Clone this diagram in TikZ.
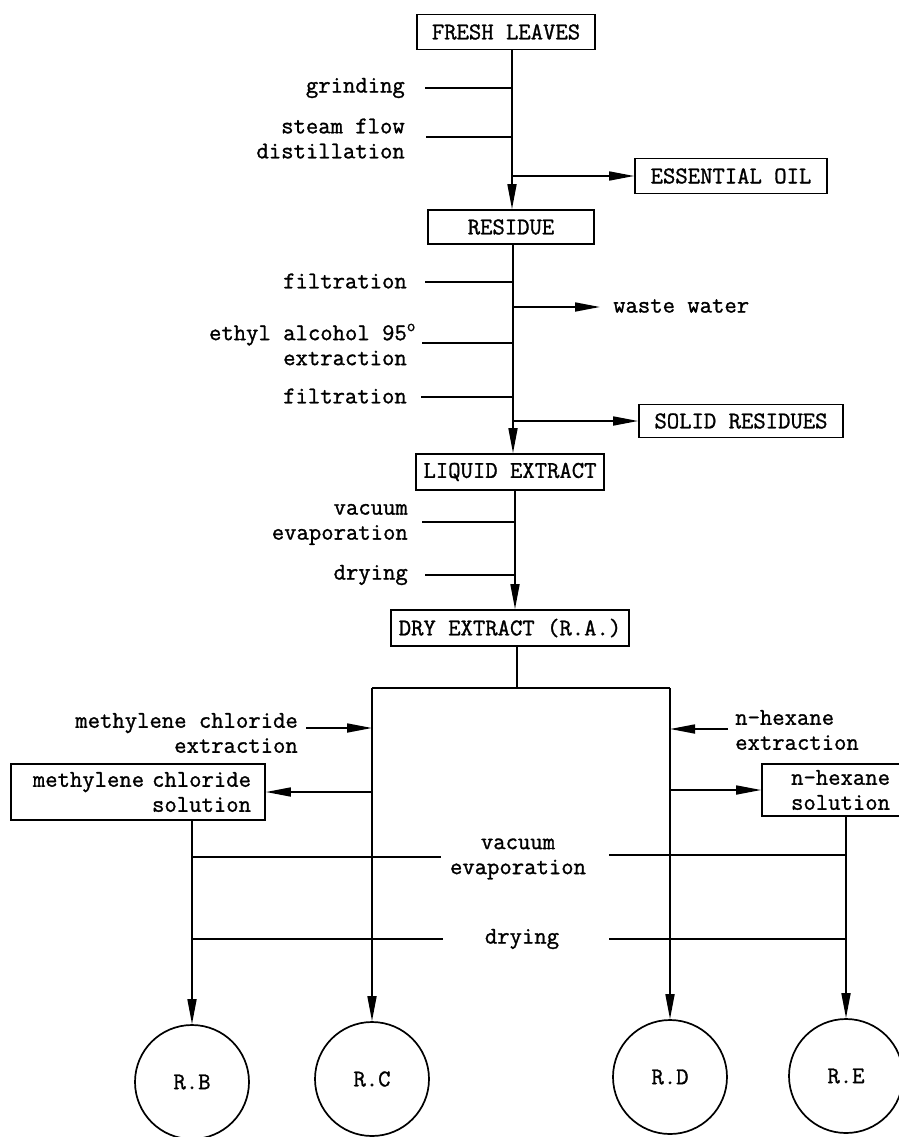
\documentclass[tikz,border=0pt]{standalone}
\usepackage{fontspec}
\setmonofont{Latin Modern Mono}[FakeBold=1.2]
\usetikzlibrary{arrows.meta}
\begin{document}
\begin{tikzpicture}[x=1pt,y=-1pt,
  every node/.style={font=\fontsize{24}{25}\selectfont\ttfamily},
  ln/.style={line width=1.7pt},
  arr/.style={line width=1.7pt,-{Triangle[length=25pt,width=9pt]}},
  box/.style={draw,line width=1.7pt,inner sep=0pt,minimum height=35pt},
  lbl/.style={inner sep=0pt,align=right,anchor=east},
  rnd/.style={draw,circle,line width=1.7pt,minimum size=114pt,inner sep=0pt}]
\useasboundingbox (0,0) rectangle (898,1137);
% columns
\coordinate (c1) at (512,0);
\coordinate (c2) at (513,0);
\coordinate (c3) at (515,0);
\coordinate (c4) at (517,0);
% boxes
\node[box,minimum width=178pt] (fresh) at (506,32) {FRESH LEAVES};
\node[box,minimum width=192pt] (oil) at (731,176) {ESSENTIAL OIL};
\node[box,minimum width=166pt,minimum height=34pt] (residue) at (511,227) {RESIDUE};
\node[box,minimum width=204pt,minimum height=33pt] (solid) at (741,421) {SOLID RESIDUES};
\node[box,minimum width=188pt,minimum height=36pt] (liquid) at (510,472) {LIQUID EXTRACT};
\node[box,minimum width=238pt,minimum height=36pt] (dry) at (510,628) {DRY EXTRACT (R.A.)};
\node[box,minimum width=254pt,minimum height=56pt,align=right,text width=226pt] (meth) at (138,792) {methylene chloride\\solution};
\node[box,minimum width=140pt,minimum height=52pt,align=right,text width=116pt] (nhex) at (832,790) {n-hexane\\solution};
% circles
\node[rnd] (rb) at (192,1082) {R.B};
\node[rnd] (rc) at (372,1079) {R.C};
\node[rnd] (rd) at (670,1077) {R.D};
\node[rnd] (re) at (846,1076) {R.E};
% labels
\node[lbl] (grind) at (405,88) {grinding};
\node[lbl] (steam) at (405,138.5) {steam flow\\distillation};
\node[lbl] (filt1) at (407,281) {filtration};
\node[inner sep=0pt,anchor=west] (waste) at (613,306) {waste water};
\node[lbl] (ethyl) at (407,344.5) {ethyl alcohol 95\rlap{\textsuperscript{o}}\\extraction};
\node[lbl] (filt2) at (407,396) {filtration};
\node[lbl] (vac) at (408,524.5) {vacuum\\evaporation};
\node[lbl] (dry1) at (408,575) {drying};
\node[lbl] (mce) at (298,733) {methylene chloride\\extraction};
\node[inner sep=0pt,anchor=west,align=left] (nhe) at (735,730) {n-hexane\\extraction};
\node[inner sep=0pt,align=center] (ve) at (518,859) {vacuum\\evaporation};
\node[inner sep=0pt] (dr2) at (522,939) {drying};
% junction coordinates
\coordinate (gA) at (425,88);
\coordinate (sA) at (426,137);
\coordinate (oJ) at (512,176);
\coordinate (f1A) at (425,282);
\coordinate (wJ) at (513,307);
\coordinate (eA) at (422,343);
\coordinate (f2A) at (421,397);
\coordinate (sJ) at (513,421);
\coordinate (vA) at (422,522);
\coordinate (dA) at (425,575);
\coordinate (hb) at (517,688);
\coordinate (hbL) at (372,688);
\coordinate (hbR) at (670,688);
\coordinate (mA) at (306,728);
\coordinate (nA) at (728,729);
\coordinate (v1) at (192,857);
\coordinate (v2) at (441,857);
\coordinate (v3) at (609,855);
\coordinate (v4) at (846,855);
\coordinate (d1) at (192,939);
\coordinate (d2) at (443,939);
\coordinate (d3) at (609,939);
\coordinate (d4) at (846,939);
% main line
\draw[arr] (fresh.south -| c1) -- (residue.north -| c1);
\draw[arr] (residue.south -| c2) -- (liquid.north -| c2);
\draw[arr] (liquid.south -| c3) -- (dry.north -| c3);
\draw[ln] (dry.south -| c4) -- (hb);
\draw[ln] (hbL) -- (hbR);
\draw[arr] (hbL) -- (rc.north);
\draw[arr] (hbR) -- (rd.north);
\draw[arr] (meth.south -| rb) -- (rb.north);
\draw[arr] (nhex.south -| re) -- (re.north);
% side lines
\draw[ln] (gA) -- (gA -| c1);
\draw[ln] (sA) -- (sA -| c1);
\draw[arr] (oJ) -- (oil.west);
\draw[ln] (f1A) -- (f1A -| c2);
\draw[arr,shorten >=13pt] (wJ) -- (waste.west |- wJ);
\draw[ln] (eA) -- (eA -| c2);
\draw[ln] (f2A) -- (f2A -| c2);
\draw[arr] (sJ) -- (solid.west);
\draw[ln] (vA) -- (vA -| c3);
\draw[ln] (dA) -- (dA -| c3);
\draw[arr] (mA) -- (mA -| hbL);
\draw[arr] (nA) -- (nA -| hbR);
\draw[arr] (meth.east -| hbL) -- (meth.east);
\draw[arr] (nhex.west -| hbR) -- (nhex.west);
\draw[ln] (v1) -- (v2);
\draw[ln] (v3) -- (v4);
\draw[ln] (d1) -- (d2);
\draw[ln] (d3) -- (d4);
\end{tikzpicture}
\end{document}
